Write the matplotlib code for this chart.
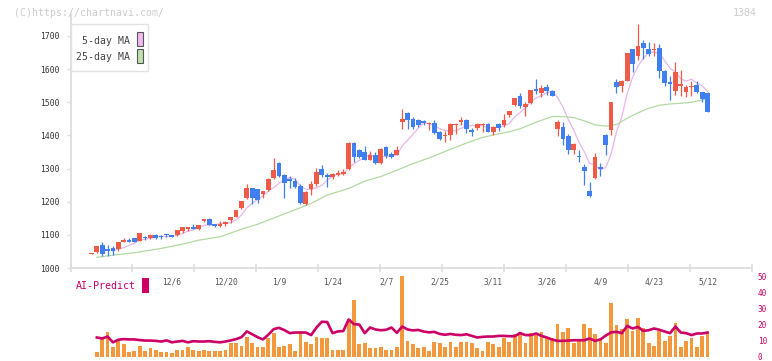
import numpy as np
import matplotlib
matplotlib.use("Agg")
import matplotlib.pyplot as plt
from matplotlib.patches import Rectangle

plt.rcParams['font.family'] = ['DejaVu Sans Mono']

W, H, DPI = 772, 361, 100

# ---------------- data ----------------
opens = [1043,1049,1069,1056,1061,1058,1078,1084,1090,1082,
         1094,1090,1099,1098,1102,1099,1100,1113,1119,1124,
         1118,1141,1149,1133,1126,1134,1144,1154,1180,1210,
         1240,1237,1222,1235,1272,1318,1280,1270,1262,1247,
         1192,1237,1252,1300,1282,1274,1282,1285,1298,1378,
         1357,1351,1327,1342,1316,1366,1345,1342,1442,1468,
         1450,1447,1444,1436,1438,1411,1400,1400,1432,1441,
         1447,1417,1423,1432,1435,1411,1435,1432,1462,1492,
         1519,1486,1498,1540,1528,1546,1534,1420,1426,1399,
         1357,1337,1306,1231,1273,1306,1402,1417,1560,1550,
         1565,1661,1641,1679,1661,1659,1664,1594,1562,1535,
         1550,1532,1546,1551,1531,1528]
highs = [1046,1067,1077,1069,1066,1079,1092,1090,1091,1106,
         1097,1102,1102,1101,1103,1100,1116,1125,1125,1133,
         1131,1148,1150,1134,1141,1142,1154,1176,1202,1252,
         1241,1238,1232,1272,1333,1319,1285,1279,1273,1254,
         1231,1262,1301,1312,1287,1287,1295,1299,1379,1379,
         1358,1367,1354,1351,1362,1367,1351,1369,1480,1470,
         1456,1449,1447,1440,1447,1414,1414,1437,1437,1456,
         1449,1423,1437,1438,1437,1428,1437,1465,1475,1514,
         1528,1501,1538,1570,1552,1555,1537,1447,1441,1405,
         1376,1357,1315,1258,1348,1318,1403,1502,1570,1566,
         1650,1662,1736,1688,1682,1678,1677,1596,1580,1621,
         1597,1551,1565,1565,1532,1532]
lows = [1042,1044,1036,1036,1040,1051,1077,1077,1077,1081,
        1085,1088,1088,1089,1093,1093,1097,1105,1112,1118,
        1116,1139,1129,1125,1124,1128,1137,1153,1177,1207,
        1193,1196,1210,1233,1270,1275,1210,1240,1240,1193,
        1190,1220,1247,1274,1244,1270,1279,1282,1297,1319,
        1332,1325,1325,1315,1315,1333,1333,1340,1420,1418,
        1420,1424,1432,1417,1405,1387,1381,1387,1405,1432,
        1408,1399,1417,1411,1410,1402,1414,1426,1456,1490,
        1483,1459,1496,1525,1516,1522,1518,1399,1372,1345,
        1345,1321,1249,1213,1270,1279,1342,1402,1529,1532,
        1563,1592,1628,1632,1641,1641,1574,1550,1508,1523,
        1520,1517,1520,1528,1502,1471]
closes = [1045,1066,1041,1051,1052,1078,1084,1078,1078,1105,
          1091,1100,1092,1093,1099,1094,1115,1124,1124,1119,
          1130,1147,1130,1127,1133,1140,1153,1175,1201,1240,
          1210,1205,1231,1270,1297,1277,1256,1264,1244,1195,
          1229,1252,1291,1280,1275,1285,1288,1290,1378,1334,
          1334,1327,1342,1316,1360,1339,1334,1357,1450,1448,
          1424,1432,1436,1438,1408,1390,1402,1435,1435,1447,
          1420,1411,1435,1435,1411,1426,1423,1447,1474,1513,
          1489,1495,1537,1535,1543,1534,1519,1441,1390,1357,
          1375,1335,1294,1216,1336,1298,1372,1501,1546,1564,
          1649,1615,1670,1665,1647,1661,1593,1559,1554,1591,
          1555,1545,1549,1531,1511,1472]

ma5 = [np.nan, np.nan, np.nan, np.nan,
       1051.0, 1057.6, 1061.2, 1068.6, 1074.0, 1084.6,
       1087.2, 1090.4, 1093.2, 1096.2, 1095.0, 1095.6, 1098.6, 1105.0, 1111.2, 1115.2,
       1122.4, 1128.8, 1130.0, 1130.6, 1133.4, 1135.4, 1136.6, 1145.6, 1160.4, 1181.8,
       1195.8, 1206.2, 1217.4, 1231.2, 1242.6, 1256.0, 1266.2, 1272.8, 1267.6, 1247.2,
       1237.6, 1236.8, 1242.2, 1249.4, 1265.4, 1276.6, 1283.8, 1283.6, 1303.2, 1315.0,
       1324.8, 1332.6, 1343.0, 1330.6, 1335.8, 1336.8, 1338.2, 1341.2, 1368.0, 1385.6,
       1402.6, 1422.2, 1438.0, 1435.6, 1427.6, 1420.8, 1414.8, 1414.6, 1414.0, 1421.8,
       1427.8, 1429.6, 1429.6, 1429.6, 1422.4, 1423.6, 1426.0, 1428.4, 1436.2, 1456.6,
       1469.2, 1483.6, 1501.6, 1513.8, 1519.8, 1528.8, 1533.6, 1514.4, 1485.4, 1448.2,
       1416.4, 1379.6, 1350.2, 1315.4, 1311.2, 1295.8, 1303.2, 1344.6, 1410.6, 1456.2,
       1526.4, 1575.0, 1608.8, 1632.6, 1649.2, 1651.6, 1647.2, 1625.0, 1602.6, 1591.4,
       1571.0, 1563.8, 1569.6, 1558.0, 1549.6, 1532.4]

ma25_idx = [1, 4, 8, 13, 17, 20, 24, 28, 31, 35, 39, 41, 44, 48, 51, 54, 57, 60, 63,
            67, 70, 73, 76, 78, 80, 83, 86, 88, 90, 92, 94, 96, 98, 100, 102, 104,
            106, 108, 110, 112, 114, 115]
ma25_val = [1032, 1039, 1046, 1059, 1072, 1084, 1094, 1117, 1132, 1157, 1182, 1195,
            1220, 1240, 1262, 1276, 1295, 1315, 1332, 1358, 1377, 1394, 1405, 1411,
            1420, 1440, 1457, 1457, 1454, 1444, 1432, 1428, 1433, 1452, 1468, 1482,
            1491, 1495, 1497, 1500, 1507, 1512]

volume = [np.nan,
          3.1, 11.0, 15.5, 5.6, 10.4, 7.7, 2.5, 3.5, 6.8,
          3.5, 5.0, 4.1, 2.5, 2.5, 1.9, 4.3, 3.9, 5.6, 4.3,
          3.3, 4.3, 3.5, 3.3, 3.3, 4.1, 8.3, 8.3, 6.8, 12.4,
          8.3, 6.2, 5.6, 11.2, 14.9, 5.6, 6.8, 7.7, 3.7, 14.9,
          9.3, 7.5, 12.4, 11.2, 11.4, 4.3, 4.3, 4.3, 23.6, 35.4,
          7.5, 8.1, 5.0, 5.4, 6.2, 4.1, 4.3, 6.2, 49.7, 9.9,
          7.9, 5.0, 5.6, 3.7, 8.7, 8.1, 6.2, 8.7, 5.6, 9.3,
          8.7, 8.1, 5.0, 3.7, 9.3, 7.5, 5.6, 11.8, 9.3, 13.7,
          15.5, 8.1, 14.9, 14.9, 15.5, 11.2, 11.2, 19.9, 15.5, 18.0,
          8.1, 10.8, 19.9, 17.4, 13.7, 11.8, 8.1, 33.5, 19.3, 16.8,
          23.0, 16.1, 24.2, 18.0, 8.1, 6.8, 16.1, 9.9, 13.0, 21.1,
          6.2, 9.9, 11.2, 6.2, 13.0, 15.5]

ai_predict = [np.nan,
              11.8, 11.2, 12.4, 8.8, 10.4, 10.8, 10.6, 10.6, 10.2,
              9.9, 9.9, 9.7, 9.3, 10.0, 8.8, 9.3, 9.7, 8.8, 9.5,
              9.3, 9.3, 9.5, 9.1, 8.8, 9.3, 10.0, 10.8, 12.0, 15.6,
              13.8, 12.0, 10.6, 13.5, 17.0, 17.8, 16.4, 14.5, 14.9, 14.9,
              14.9, 13.3, 18.0, 21.6, 21.4, 14.5, 15.6, 15.8, 23.0, 20.1,
              19.8, 14.5, 18.0, 16.8, 16.3, 16.6, 18.0, 14.7, 18.6, 16.8,
              16.2, 16.5, 15.5, 15.0, 15.3, 14.0, 13.5, 14.0, 13.5, 13.3,
              13.8, 12.8, 11.8, 12.2, 12.4, 12.4, 12.8, 12.8, 12.6, 12.6,
              14.5, 13.3, 13.3, 14.3, 12.8, 11.8, 10.5, 9.7, 9.7, 9.9,
              10.1, 10.1, 10.1, 11.2, 9.7, 10.6, 13.0, 15.0, 15.3, 14.5,
              19.0, 17.4, 18.4, 15.9, 16.3, 17.4, 16.6, 15.5, 14.5, 18.6,
              14.9, 14.5, 13.3, 14.3, 14.3, 14.9]

date_labels = ['12/6', '12/20', '1/9', '1/24', '2/7', '2/25', '3/11',
               '3/26', '4/9', '4/23', '5/12']
date_label_idx = [15, 25, 35, 45, 55, 65, 75, 85, 95, 105, 115]
price_ticks = [1000, 1100, 1200, 1300, 1400, 1500, 1600, 1700]
ai_ticks = [0, 10, 20, 30, 40, 50]

# ---------------- style ----------------
RED = '#f05a46'
BLUE = '#3f7ff0'
PINK = '#e9b6ec'
GREEN = '#b3d9a3'
ORANGE = '#f4983e'
MAG = '#cc0066'
AXC = '#dddddd'

fig = plt.figure(figsize=(W / DPI, H / DPI), dpi=DPI)
fig.patch.set_facecolor('white')


def px_rect(l, t, r, b):
    return [l / W, 1 - b / H, (r - l) / W, (b - t) / H]


PX0, STEP = 91.5, 5.357          # pixel of first candle, pixels per candle
AX_L, AX_R = 70.5, 752.0
xmin, xmax = (AX_L - PX0) / STEP, (AX_R - PX0) / STEP

# ---------------- main price axes ----------------
ax = fig.add_axes(px_rect(AX_L, 14, AX_R, 268))
o = np.array(opens, float); c = np.array(closes, float)
hi = np.array(highs, float); lo = np.array(lows, float)
x = np.arange(len(c))
up = c >= o
cols = np.where(up, RED, BLUE)
bh = np.abs(c - o)
bot = np.minimum(o, c)
small = bh < 3
bot = np.where(small, (o + c) / 2 - 1.5, bot)
bh = np.where(small, 3, bh)

ax.plot(x, ma5, color=PINK, lw=0.9, zorder=1)
ax.plot(ma25_idx, ma25_val, color=GREEN, lw=0.9, zorder=1)
ax.vlines(x, lo, hi, colors=cols, lw=0.9, zorder=2)
ax.bar(x, bh, bottom=bot, width=0.88, color=cols, linewidth=0, zorder=3)

ax.set_xlim(xmin, xmax)
ax.set_ylim(1000, 1000 + (268 - 14) * 100 / 33.143)
for s in ['top', 'right']:
    ax.spines[s].set_visible(False)
for s in ['left', 'bottom']:
    ax.spines[s].set_color(AXC)
    ax.spines[s].set_linewidth(1.3)
ax.set_yticks(price_ticks)
ax.set_yticklabels([str(t) for t in price_ticks])
ax.tick_params(axis='y', direction='out', length=3, width=1, color=AXC,
               labelsize=5.8, labelcolor='#333333', pad=4.6)
ax.set_xticks(np.linspace(xmin, xmax, 12))
ax.set_xticklabels([])
ax.tick_params(axis='x', direction='inout', length=6, width=1.2, color=AXC)
ax.patch.set_alpha(0)

# ---------------- lower AI-Predict axes ----------------
ax2 = fig.add_axes(px_rect(AX_L, 276, AX_R, 356.5))
ax2.bar(x, volume, width=0.7, color=ORANGE, linewidth=0, zorder=1)
ax2.plot(x, ai_predict, color=MAG, lw=1.9, zorder=2)
ax2.set_xlim(xmin, xmax)
ax2.set_ylim(0, 50)
for s in ax2.spines.values():
    s.set_visible(False)
ax2.set_xticks([])
ax2.yaxis.tick_right()
ax2.set_yticks(ai_ticks)
ax2.set_yticklabels([str(t) for t in ai_ticks])
ax2.tick_params(axis='y', length=0, labelsize=5.6, labelcolor=MAG, pad=4.2)
ax2.patch.set_alpha(0)

for lab, idx in zip(date_labels, date_label_idx):
    ax2.text(idx, 46.3, lab, ha='center', va='center', fontsize=5.7,
             color='#555555')

fig.text(76 / W, 1 - 286 / H, 'AI-Predict', color=MAG, fontsize=7.2,
         ha='left', va='center')
fig.add_artist(Rectangle((142.3 / W, 1 - 293 / H), 6.5 / W, 15.5 / H,
                         transform=fig.transFigure, facecolor=MAG,
                         edgecolor='none'))

# ---------------- legend box ----------------
fig.add_artist(Rectangle((70.5 / W, 1 - 71 / H), 77.5 / W, 47 / H,
                         transform=fig.transFigure, facecolor='white',
                         edgecolor='#e2e2e2', lw=1, zorder=5))
fig.text(129.5 / W, 1 - 41 / H, '5-day MA', ha='right', va='center',
         fontsize=7.1, color='#444444', zorder=6)
fig.text(129.5 / W, 1 - 57.3 / H, '25-day MA', ha='right', va='center',
         fontsize=7.1, color='#444444', zorder=6)
fig.add_artist(Rectangle((137 / W, 1 - 46.3 / H), 5.6 / W, 14.6 / H,
                         transform=fig.transFigure, facecolor='#f0b9f0',
                         edgecolor='#555555', lw=0.8, zorder=6))
fig.add_artist(Rectangle((137 / W, 1 - 63.3 / H), 5.6 / W, 14.6 / H,
                         transform=fig.transFigure, facecolor='#bde0ad',
                         edgecolor='#555555', lw=0.8, zorder=6))

# ---------------- watermark / code ----------------
fig.text(14 / W, 1 - 12.5 / H, '(C)https://chartnavi.com/', ha='left',
         va='center', fontsize=7.1, color='#cccccc')
fig.text(757 / W, 1 - 12.5 / H, '1384', ha='right', va='center',
         fontsize=7.1, color='#cccccc')

fig.savefig('out.png', dpi=DPI)
